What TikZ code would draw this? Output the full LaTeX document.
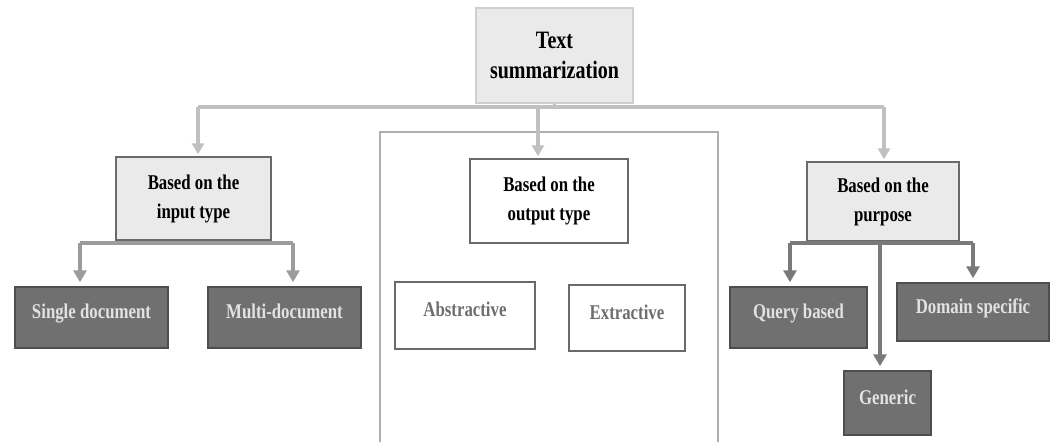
\documentclass[tikz,border=0pt]{standalone}
\usepackage{fontspec}
\setmainfont{Liberation Serif}[FakeStretch=0.8]
\usetikzlibrary{arrows.meta}
\definecolor{lightfill}{HTML}{EAEAEA}
\definecolor{topborder}{HTML}{CFCFCF}
\definecolor{boxborder}{HTML}{6A6A6A}
\definecolor{darkfill}{HTML}{707070}
\definecolor{darkborder}{HTML}{4E4E4E}
\definecolor{darktext}{HTML}{E2E2E2}
\definecolor{conA}{HTML}{C0C0C0}
\definecolor{conB}{HTML}{9C9C9C}
\definecolor{conC}{HTML}{7A7A7A}
\definecolor{framecol}{HTML}{AFAFAF}
\definecolor{graytext}{HTML}{6E6E6E}
\tikzset{
  rootbox/.style={draw=topborder, line width=1.2pt, fill=lightfill, align=center,
    font=\fontsize{25}{30}\selectfont\bfseries, inner sep=0pt},
  catbox/.style={draw=boxborder, line width=1.5pt, fill=lightfill, align=center,
    font=\fontsize{21}{29}\selectfont\bfseries, inner sep=0pt},
  outbox/.style={catbox, fill=white},
  darkbox/.style={draw=darkborder, line width=1.5pt, fill=darkfill, text=darktext,
    font=\fontsize{21}{25}\selectfont\bfseries, inner sep=0pt, text height=14pt, text depth=12pt},
  whitebox/.style={draw=boxborder, line width=1.5pt, fill=white, text=graytext,
    font=\fontsize{21}{25}\selectfont\bfseries, inner sep=0pt, text height=14pt, text depth=12pt},
  lineA/.style={draw=conA, line width=3.2pt},
  lineB/.style={draw=conB, line width=3.6pt},
  lineC/.style={draw=conC, line width=3.6pt},
  arrA/.style={lineA, -{Triangle[width=12pt,length=11pt]}, shorten >=2pt},
  arrB/.style={lineB, -{Triangle[width=13pt,length=12pt]}, shorten >=4pt},
  arrC/.style={lineC, -{Triangle[width=13pt,length=12pt]}, shorten >=4pt},
}
\begin{document}
\begin{tikzpicture}[x=1pt,y=-1pt]
\useasboundingbox[fill=white] (0,0) rectangle (1053,442);
% big frame around output-type branch
\draw[framecol, line width=2pt] (380,445) -- (380,132) -- (718,132) -- (718,445);

% nodes
\node[rootbox, minimum width=157pt, minimum height=95pt] (root) at (554.5,55.5) {Text\\summarization};
\node[catbox, minimum width=155pt, minimum height=83pt] (input) at (193.5,198.5) {Based on the\\input type};
\node[outbox, minimum width=158pt, minimum height=84pt] (output) at (549,201) {Based on the\\output type};
\node[catbox, minimum width=152pt, minimum height=79pt] (purpose) at (883,201.5) {Based on the\\purpose};

\node[darkbox, minimum width=153pt, minimum height=61pt] (single) at (91.5,317.5) {Single document};
\node[darkbox, minimum width=153pt, minimum height=61pt] (multi) at (284.5,317.5) {Multi-document};

\node[whitebox, minimum width=140pt, minimum height=67pt] (abs) at (465,315.5) {Abstractive};
\node[whitebox, minimum width=116pt, minimum height=66pt] (ext) at (627,318) {Extractive};

\node[darkbox, minimum width=137pt, minimum height=61pt] (query) at (798.5,317.5) {Query based};
\node[darkbox, minimum width=152pt, minimum height=58pt] (domain) at (973,312) {Domain specific};
\node[darkbox, minimum width=87pt, minimum height=64pt] (generic) at (887.5,403) {Generic};

% top-level connectors
\coordinate (jl) at (198,107);
\coordinate (jm) at (538,107);
\coordinate (jr) at (884,107);
\draw[lineA] (root.south) -- (root.south |- jm);
\draw[lineA] (jl) -- (jr);
\draw[arrA] (jl) -- (jl |- input.north);
\draw[arrA] (jm) -- (jm |- output.north);
\draw[arrA] (jr) -- (jr |- purpose.north);

% input-type connectors
\coordinate (il) at (80,243);
\coordinate (ir) at (293,243);
\draw[lineB] (il) -- (ir);
\draw[arrB] (il) -- (il |- single.north);
\draw[arrB] (ir) -- (ir |- multi.north);

% purpose connectors
\coordinate (pl) at (790,243);
\coordinate (pm) at (880,243);
\coordinate (pr) at (973,243);
\draw[lineC] (pl) -- (pr);
\draw[arrC] (pl) -- (pl |- query.north);
\draw[arrC] (pm) -- (pm |- generic.north);
\draw[arrC] (pr) -- (pr |- domain.north);
\end{tikzpicture}
\end{document}
